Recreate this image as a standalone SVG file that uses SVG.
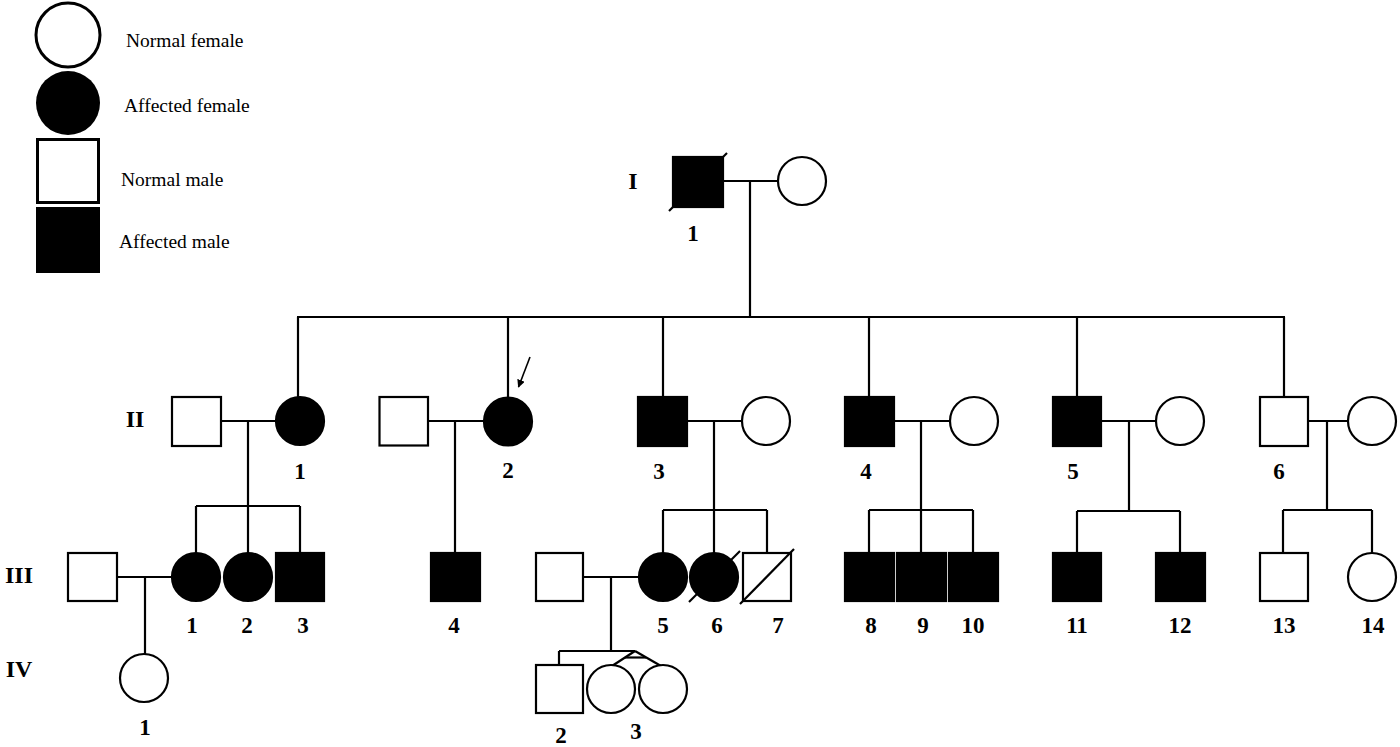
<svg xmlns="http://www.w3.org/2000/svg" width="1400" height="747" viewBox="0 0 1400 747">
<style>
.bg{fill:#fff}
.n{fill:#fff;stroke:#000;stroke-width:2.2}
.a{fill:#000;stroke:#000;stroke-width:2.2}
.ln{stroke:#000;stroke-width:2.2;fill:none}
.lg{font-family:"Liberation Serif","Times New Roman",serif;font-size:19.5px;fill:#000}
.lb{font-family:"Liberation Serif","Times New Roman",serif;font-size:23px;font-weight:bold;fill:#000;text-anchor:middle}
.gen{font-family:"Liberation Serif","Times New Roman",serif;font-size:24px;font-weight:bold;fill:#000;text-anchor:middle}
</style>
<defs>
<marker id="ah" viewBox="0 0 10 10" refX="9" refY="5" markerWidth="5" markerHeight="5" orient="auto">
<path d="M0,0 L10,5 L0,10 z" fill="#000"/>
</marker>
</defs>
<rect class="bg" x="0" y="0" width="1400" height="747"/>

<g id="legend">
<circle cx="68" cy="35" r="32" fill="#fff" stroke="#000" stroke-width="3"/>
<circle cx="68" cy="103" r="32" fill="#000"/>
<rect x="37.5" y="139.5" width="61" height="63" fill="#fff" stroke="#000" stroke-width="3"/>
<rect x="36" y="207" width="64" height="66" fill="#000"/>
<text class="lg" x="126" y="47">Normal female</text>
<text class="lg" x="124" y="112">Affected female</text>
<text class="lg" x="121" y="186">Normal male</text>
<text class="lg" x="119" y="248">Affected male</text>
</g>

<g id="generation-labels">
<text class="gen" x="633" y="189">I</text>
<text class="gen" x="135" y="427">II</text>
<text class="gen" x="19" y="583">III</text>
<text class="gen" x="19" y="677">IV</text>
</g>

<g id="connectors">
<line class="ln" x1="723" y1="181" x2="778" y2="181"/>
<line class="ln" x1="750" y1="181" x2="750" y2="317"/>
<line class="ln" x1="297" y1="317" x2="1285" y2="317"/>
<line class="ln" x1="298" y1="317" x2="298" y2="397"/>
<line class="ln" x1="508" y1="317" x2="508" y2="397"/>
<line class="ln" x1="663" y1="317" x2="663" y2="397"/>
<line class="ln" x1="869" y1="317" x2="869" y2="397"/>
<line class="ln" x1="1077" y1="317" x2="1077" y2="397"/>
<line class="ln" x1="1284" y1="317" x2="1284" y2="397"/>
<line class="ln" x1="221" y1="421" x2="276" y2="421"/>
<line class="ln" x1="248" y1="421" x2="248" y2="553"/>
<line class="ln" x1="196" y1="506" x2="300" y2="506"/>
<line class="ln" x1="196" y1="506" x2="196" y2="553"/>
<line class="ln" x1="300" y1="506" x2="300" y2="553"/>
<line class="ln" x1="428" y1="421" x2="484" y2="421"/>
<line class="ln" x1="455" y1="421" x2="455" y2="553"/>
<line class="ln" x1="687" y1="421" x2="742" y2="421"/>
<line class="ln" x1="714" y1="421" x2="714" y2="553"/>
<line class="ln" x1="663" y1="510" x2="767" y2="510"/>
<line class="ln" x1="663" y1="510" x2="663" y2="553"/>
<line class="ln" x1="767" y1="510" x2="767" y2="553"/>
<line class="ln" x1="894" y1="421" x2="950" y2="421"/>
<line class="ln" x1="921" y1="421" x2="921" y2="553"/>
<line class="ln" x1="869" y1="510" x2="973" y2="510"/>
<line class="ln" x1="869" y1="510" x2="869" y2="553"/>
<line class="ln" x1="973" y1="510" x2="973" y2="553"/>
<line class="ln" x1="1101" y1="421" x2="1156" y2="421"/>
<line class="ln" x1="1129" y1="421" x2="1129" y2="511"/>
<line class="ln" x1="1077" y1="511" x2="1180" y2="511"/>
<line class="ln" x1="1077" y1="511" x2="1077" y2="553"/>
<line class="ln" x1="1180" y1="511" x2="1180" y2="553"/>
<line class="ln" x1="1308" y1="421" x2="1348" y2="421"/>
<line class="ln" x1="1327" y1="421" x2="1327" y2="510"/>
<line class="ln" x1="1283" y1="510" x2="1372" y2="510"/>
<line class="ln" x1="1283" y1="510" x2="1283" y2="553"/>
<line class="ln" x1="1372" y1="510" x2="1372" y2="553"/>
<line class="ln" x1="117" y1="577" x2="172" y2="577"/>
<line class="ln" x1="145" y1="577" x2="145" y2="654"/>
<line class="ln" x1="583" y1="577" x2="639" y2="577"/>
<line class="ln" x1="611" y1="577" x2="611" y2="651"/>
<line class="ln" x1="559" y1="651" x2="635" y2="651"/>
<line class="ln" x1="559" y1="651" x2="559" y2="665"/>
<line class="ln" x1="635" y1="651" x2="612" y2="666"/>
<line class="ln" x1="635" y1="651" x2="661" y2="666"/>
<line class="ln" x1="625" y1="657.5" x2="646" y2="657.5"/>
<line x1="530" y1="357" x2="518.5" y2="387" stroke="#000" stroke-width="1.6" marker-end="url(#ah)"/>
</g>

<g id="I-1"><rect class="a" x="673" y="157" width="50" height="50"/><line class="ln" x1="669" y1="211" x2="727" y2="153"/><text class="lb" x="693" y="241">1</text></g>
<g id="I-2"><circle class="n" cx="802" cy="181" r="24"/></g>

<g id="II-1-spouse"><rect class="n" x="172" y="397" width="49" height="49"/></g>
<g id="II-1"><circle class="a" cx="300" cy="421" r="24"/><text class="lb" x="300" y="479">1</text></g>
<g id="II-2-spouse"><rect class="n" x="379.5" y="397" width="48.5" height="48.5"/></g>
<g id="II-2"><circle class="a" cx="508" cy="421.5" r="24"/><text class="lb" x="508" y="478">2</text></g>
<g id="II-3"><rect class="a" x="638" y="397" width="49" height="49"/><text class="lb" x="659" y="479">3</text></g>
<g id="II-3-spouse"><circle class="n" cx="766" cy="421" r="24"/></g>
<g id="II-4"><rect class="a" x="845" y="397" width="49" height="49"/><text class="lb" x="866" y="479">4</text></g>
<g id="II-4-spouse"><circle class="n" cx="974" cy="421" r="24"/></g>
<g id="II-5"><rect class="a" x="1053" y="397" width="48" height="49"/><text class="lb" x="1073" y="479">5</text></g>
<g id="II-5-spouse"><circle class="n" cx="1180" cy="421" r="24"/></g>
<g id="II-6"><rect class="n" x="1260" y="397" width="48" height="49"/><text class="lb" x="1279" y="479">6</text></g>
<g id="II-6-spouse"><circle class="n" cx="1372" cy="421" r="24"/></g>

<g id="III-1-spouse"><rect class="n" x="68" y="553" width="49" height="48"/></g>
<g id="III-1"><circle class="a" cx="196" cy="577" r="24"/><text class="lb" x="192" y="633">1</text></g>
<g id="III-2"><circle class="a" cx="248" cy="577" r="24"/><text class="lb" x="247" y="633">2</text></g>
<g id="III-3"><rect class="a" x="276" y="553" width="48" height="48"/><text class="lb" x="303" y="633">3</text></g>
<g id="III-4"><rect class="a" x="431" y="553" width="49" height="48"/><text class="lb" x="454" y="633">4</text></g>
<g id="III-5-spouse"><rect class="n" x="536" y="553" width="47" height="48"/></g>
<g id="III-5"><circle class="a" cx="663" cy="577" r="24"/><text class="lb" x="663" y="633">5</text></g>
<g id="III-6"><circle class="a" cx="714" cy="577" r="24"/><line class="ln" x1="689" y1="602" x2="740" y2="551"/><text class="lb" x="717" y="633">6</text></g>
<g id="III-7"><rect class="n" x="743" y="553" width="48" height="48"/><line class="ln" x1="740" y1="604" x2="794" y2="549"/><text class="lb" x="778" y="633">7</text></g>
<g id="III-8"><rect class="a" x="845" y="553" width="49" height="48"/><text class="lb" x="871" y="633">8</text></g>
<g id="III-9"><rect class="a" x="897" y="553" width="49" height="48"/><text class="lb" x="923" y="633">9</text></g>
<g id="III-10"><rect class="a" x="949" y="553" width="49" height="48"/><text class="lb" x="973" y="633">10</text></g>
<g id="III-11"><rect class="a" x="1053" y="553" width="48" height="48"/><text class="lb" x="1077" y="633">11</text></g>
<g id="III-12"><rect class="a" x="1156" y="553" width="49" height="48"/><text class="lb" x="1180" y="633">12</text></g>
<g id="III-13"><rect class="n" x="1260" y="553" width="48" height="48"/><text class="lb" x="1284" y="633">13</text></g>
<g id="III-14"><circle class="n" cx="1372" cy="577" r="24"/><text class="lb" x="1373" y="633">14</text></g>

<g id="IV-1"><circle class="n" cx="144" cy="678" r="24"/><text class="lb" x="145" y="735">1</text></g>
<g id="IV-2"><rect class="n" x="536" y="665" width="47" height="48"/><text class="lb" x="561" y="743">2</text></g>
<g id="IV-3"><circle class="n" cx="611" cy="689" r="24"/><circle class="n" cx="663" cy="689" r="24"/><text class="lb" x="636" y="739">3</text></g>
</svg>
